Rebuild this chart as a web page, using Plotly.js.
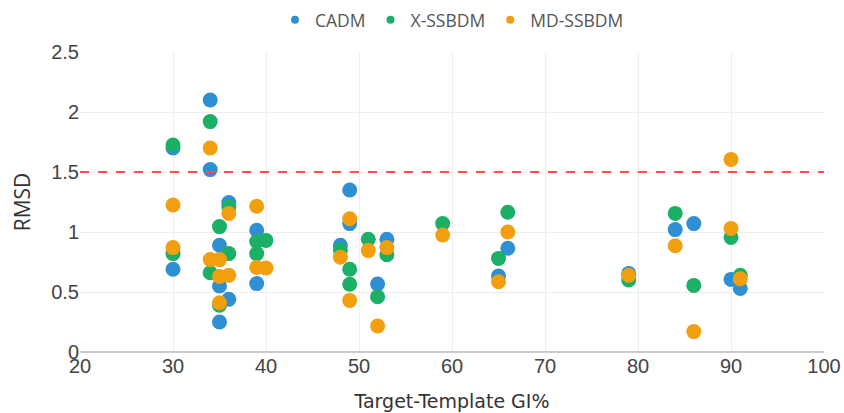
<!DOCTYPE html>
<html>
<head>
<meta charset="utf-8">
<script src="https://cdn.plot.ly/plotly-3.0.1.min.js"></script>
<style>html,body{margin:0;padding:0;background:#fff;}#chart{width:844px;height:413px;}</style>
</head>
<body>
<div id="chart"></div>
<script>
const cadmX = [30, 30, 34, 34, 35, 35, 35, 36, 36, 39, 39, 48, 49, 49, 52, 53, 65, 66, 79, 84, 86, 90, 91];
const cadmY = [1.70, 0.69, 2.10, 1.52, 0.89, 0.55, 0.25, 1.245, 0.44, 1.015, 0.57, 0.89, 1.35, 1.07, 0.567, 0.94, 0.633, 0.865, 0.655, 1.02, 1.07, 0.605, 0.53];

const xssX = [30, 30, 34, 34, 35, 35, 36, 36, 39, 39, 40, 48, 49, 49, 51, 52, 53, 59, 65, 66, 79, 84, 86, 90, 91];
const xssY = [1.725, 0.82, 1.92, 0.66, 1.045, 0.39, 1.21, 0.82, 0.92, 0.82, 0.93, 0.85, 0.69, 0.565, 0.94, 0.46, 0.81, 1.07, 0.78, 1.165, 0.60, 1.155, 0.555, 0.955, 0.64];

const mdX = [30, 30, 34, 34, 35, 35, 35, 36, 36, 39, 39, 40, 48, 49, 49, 51, 52, 53, 59, 65, 66, 79, 84, 86, 90, 90, 91];
const mdY = [1.225, 0.87, 1.70, 0.77, 0.77, 0.63, 0.41, 1.155, 0.64, 1.215, 0.705, 0.70, 0.79, 1.11, 0.43, 0.845, 0.217, 0.87, 0.975, 0.586, 1.00, 0.64, 0.886, 0.17, 1.605, 1.03, 0.61];

const seriesNames = ['CADM', 'X-SSBDM', 'MD-SSBDM'];
const seriesColors = ['#2e8fd2', '#1bb066', '#f29f0f'];
const thresholdY = 1.5;

const xs = [cadmX, xssX, mdX];
const ys = [cadmY, xssY, mdY];

const traces = seriesNames.map((n, i) => ({
  type: 'scatter', mode: 'markers', name: n, showlegend: false, legendgroup: n,
  x: xs[i], y: ys[i],
  marker: {size: 15, color: seriesColors[i]}
}));
// legend entries with small dots, as in the reference
seriesNames.forEach((n, i) => traces.push({
  type: 'scatter', mode: 'markers', name: n, legendgroup: n, showlegend: true,
  x: [null], y: [null], hoverinfo: 'skip',
  marker: {size: 8, color: seriesColors[i]}
}));

const layout = {
  width: 844, height: 413,
  margin: {l: 80, r: 20, t: 52, b: 61},
  font: {family: 'Open Sans, sans-serif', color: '#444', size: 16},
  paper_bgcolor: '#fff', plot_bgcolor: '#fff',
  showlegend: true,
  legend: {orientation: 'h', x: 0.5, xanchor: 'center', yref: 'container', y: 0.952, yanchor: 'middle',
           font: {size: 17.5, color: '#555'}, itemwidth: 30, tracegroupgap: 0},
  xaxis: {
    range: [20, 100], dtick: 10, showgrid: true, gridcolor: '#eee',
    zeroline: false, showline: false, ticks: '', automargin: false,
    tickfont: {family: 'Liberation Sans, Arial, sans-serif', size: 20, color: '#444'},
    title: {text: 'Target-Template GI%', font: {family: 'DejaVu Sans, sans-serif', size: 19, color: '#333'}, standoff: 18}
  },
  yaxis: {
    range: [0, 2.5], dtick: 0.5, showgrid: true, gridcolor: '#eee', automargin: false,
    zeroline: true, zerolinecolor: '#ccc', zerolinewidth: 2,
    tickfont: {family: 'Liberation Sans, Arial, sans-serif', size: 20, color: '#444'},
    title: {text: 'RMSD', font: {family: 'Open Sans, sans-serif', size: 21, color: '#333'}, standoff: 14}
  },
  shapes: [{
    type: 'line', xref: 'paper', x0: 0, x1: 1, yref: 'y', y0: thresholdY, y1: thresholdY,
    line: {color: '#ff4d4d', width: 2, dash: 'dash'}
  }]
};

Plotly.newPlot('chart', traces, layout, {displayModeBar: false});
</script>
</body>
</html>
